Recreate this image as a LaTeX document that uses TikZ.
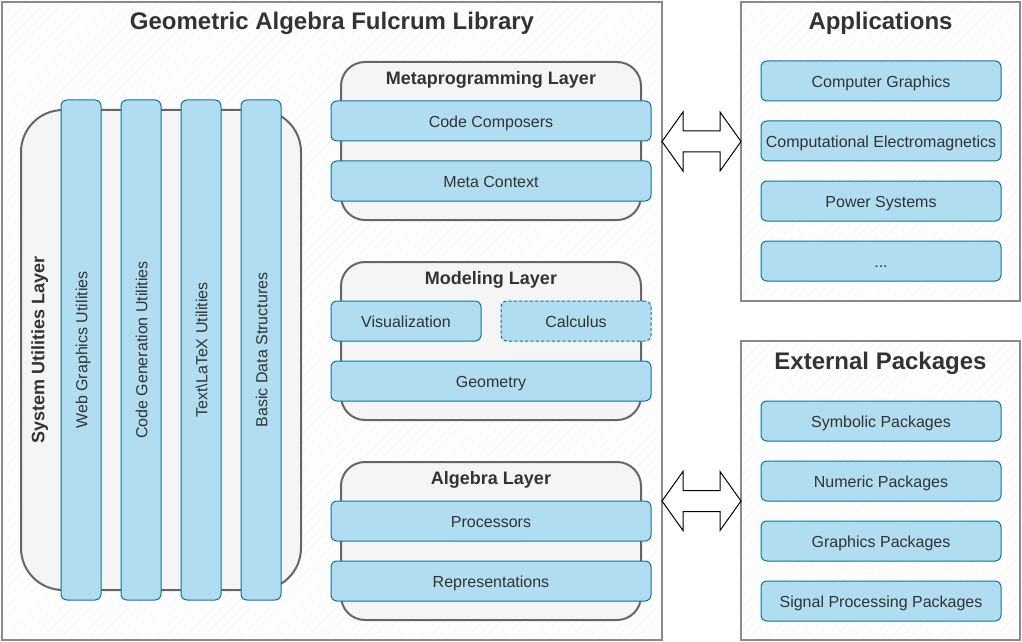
\documentclass[tikz,border=0pt]{standalone}
\usepackage{fontspec}
\setmainfont{Liberation Sans}
\usetikzlibrary{patterns.meta}
\definecolor{boxfill}{HTML}{B1DDF0}
\definecolor{boxline}{HTML}{10739E}
\definecolor{layerfill}{HTML}{F5F5F5}
\definecolor{layerline}{HTML}{666666}
\definecolor{framegray}{HTML}{8A8A8A}
\definecolor{txt}{HTML}{333333}
\tikzset{
  frame/.style={draw=framegray, line width=1.5pt},
  hatch/.style={pattern={Lines[angle=45,distance=5pt,line width=0.4pt]}, pattern color=black!5},
  layer/.style={draw=layerline, fill=layerfill, line width=1.5pt, rounded corners=#1},
  layer/.default=18pt,
  linebox/.style={text height=1.15em, text depth=0.212em},
  item/.style={draw=boxline, fill=boxfill, line width=0.75pt, rounded corners=4.5pt,
    minimum height=30pt, inner sep=0pt, text=txt, font=\fontsize{12}{14}\selectfont, linebox},
  wideitem/.style={item, minimum width=240pt},
  halfitem/.style={item, minimum width=112.5pt},
  appitem/.style={item, minimum width=180pt},
  baritem/.style={item, minimum width=375pt, rotate=90},
  bigtitle/.style={text=txt, font=\fontsize{18}{21}\selectfont\bfseries, linebox, inner sep=0pt},
  layertitle/.style={text=txt, font=\fontsize{13.5}{16}\selectfont\bfseries, linebox, inner sep=0pt},
  bigarrow/.style={draw=black, fill=white, line width=0.75pt, line join=miter}
}
\begin{document}
\begin{tikzpicture}[x=0.75pt,y=-0.75pt]
\useasboundingbox (0,0) rectangle (1022,642);
%--- frames ------------------------------------------
\fill[hatch] (2,2) rectangle (662,640);
\draw[frame] (2,2) rectangle (662,640);
\fill[hatch] (741,2) rectangle (1020,301);
\draw[frame] (741,2) rectangle (1020,301);
\fill[hatch] (741,341) rectangle (1020,640);
\draw[frame] (741,341) rectangle (1020,640);
\node[bigtitle] (libtitle) at (332,23) {Geometric Algebra Fulcrum Library};
\node[bigtitle] (apptitle) at (880.5,23) {Applications};
\node[bigtitle] (exttitle) at (880.5,363) {External Packages};
%--- system utilities layer --------------------------
\draw[layer=31.5pt] (21,110) rectangle (301,590);
\node[layertitle, rotate=90] (systitle) at (38,350) {System Utilities Layer};
\node[baritem] (webgfx) at (81,350) {Web Graphics Utilities};
\node[baritem] (codegen) at (141,350) {Code Generation Utilities};
\node[baritem] (textlatex) at (201,350) {Text\textbackslash LaTeX Utilities};
\node[baritem] (basicds) at (261,350) {Basic Data Structures};
%--- metaprogramming layer ---------------------------
\draw[layer] (341,62) rectangle (641,220);
\node[layertitle] (metatitle) at (491,78) {Metaprogramming Layer};
\node[wideitem] (composers) at (491,121) {Code Composers};
\node[wideitem] (metactx) at (491,181) {Meta Context};
%--- modeling layer ----------------------------------
\draw[layer] (341,262) rectangle (641,420);
\node[layertitle] (modeltitle) at (491,278) {Modeling Layer};
\node[halfitem] (visual) at (406,321) {Visualization};
\node[halfitem, dash pattern=on 2.5pt off 1.5pt] (calculus) at (576,321) {Calculus};
\node[wideitem] (geometry) at (491,381) {Geometry};
%--- algebra layer -----------------------------------
\draw[layer] (341,462) rectangle (641,620);
\node[layertitle] (algtitle) at (491,478) {Algebra Layer};
\node[wideitem] (processors) at (491,521) {Processors};
\node[wideitem] (reprs) at (491,581) {Representations};
%--- applications ------------------------------------
\node[appitem] (compgfx) at (881,81) {Computer Graphics};
\node[appitem] (compem) at (881,141) {Computational Electromagnetics};
\node[appitem] (power) at (881,201) {Power Systems};
\node[appitem] (moreapps) at (881,261) {...};
%--- external packages -------------------------------
\node[appitem] (symbolic) at (881,421) {Symbolic Packages};
\node[appitem] (numeric) at (881,481) {Numeric Packages};
\node[appitem] (graphics) at (881,541) {Graphics Packages};
\node[appitem] (signal) at (881,601) {Signal Processing Packages};
%--- double arrows -----------------------------------
\draw[bigarrow, shift={(0,141.5)}] (662,0) -- (683,-29.5) -- (683,-10.5) -- (720,-10.5) -- (720,-29.5) -- (741,0) -- (720,29.5) -- (720,10.5) -- (683,10.5) -- (683,29.5) -- cycle;
\draw[bigarrow, shift={(0,501)}] (662,0) -- (683,-29.5) -- (683,-10.5) -- (720,-10.5) -- (720,-29.5) -- (741,0) -- (720,29.5) -- (720,10.5) -- (683,10.5) -- (683,29.5) -- cycle;
\end{tikzpicture}
\end{document}
